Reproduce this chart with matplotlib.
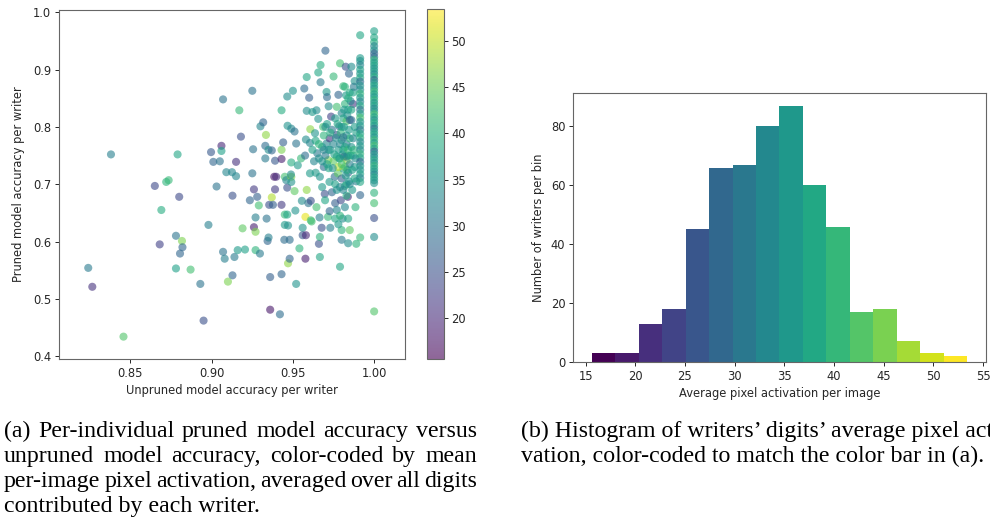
import numpy as np
import matplotlib
matplotlib.use("Agg")
import matplotlib.pyplot as plt
from matplotlib import cm

# ---------------- data ----------------
# scattered writers: (unpruned accuracy, pruned accuracy, mean pixel activation)
scatter_x = [0.824, 0.8265, 0.838, 0.8457, 0.865, 0.868, 0.869, 0.872, 0.8735, 0.880,
             0.879, 0.878, 0.8817, 0.882, 0.8805, 0.878, 0.887, 0.893, 0.895, 0.898,
             0.8996, 0.901, 0.905, 0.906, 0.906, 0.907, 0.903, 0.907, 0.908, 0.909,
             0.9125, 0.9128, 0.9128, 0.910, 0.914, 0.915, 0.915, 0.916, 0.917, 0.918,
             0.919, 0.9205, 0.9235, 0.925, 0.925, 0.9255, 0.926, 0.926, 0.927, 0.927,
             0.927, 0.928, 0.929, 0.9297, 0.930, 0.9317, 0.933, 0.9334, 0.933, 0.9338,
             0.9344, 0.935, 0.9354, 0.936, 0.936, 0.935, 0.937, 0.937, 0.9377, 0.9385,
             0.939, 0.9397, 0.939, 0.943, 0.942, 0.943, 0.943, 0.943, 0.943, 0.944,
             0.9447, 0.945, 0.945, 0.945, 0.9465, 0.9459, 0.9465, 0.947, 0.947, 0.948,
             0.948, 0.949, 0.949, 0.9488, 0.949, 0.9465, 0.950, 0.9467, 0.949, 0.951,
             0.951, 0.9515, 0.952, 0.952, 0.953, 0.954, 0.955, 0.9555, 0.956, 0.956,
             0.957, 0.9575, 0.9577, 0.9577, 0.9585, 0.958, 0.9585, 0.9585, 0.958, 0.9595,
             0.9605, 0.960, 0.961, 0.9615, 0.9607, 0.9605, 0.961, 0.962, 0.963, 0.9636,
             0.9645, 0.9645, 0.965, 0.9656, 0.966, 0.9666, 0.9656, 0.9664, 0.967, 0.967,
             0.9666, 0.9666, 0.9677, 0.968, 0.9686, 0.969, 0.9696, 0.970, 0.9707, 0.9698,
             0.9707, 0.971, 0.9716, 0.9718, 0.972, 0.9725, 0.9726, 0.9726, 0.973, 0.9735,
             0.974, 0.975, 0.9757, 0.976, 0.977, 0.977, 0.9777, 0.978, 0.9785, 0.979,
             0.9795, 0.980, 0.980, 0.980, 0.980, 0.979, 0.981, 0.981, 0.9806, 0.9815,
             0.982, 0.9825, 0.9827, 0.983, 0.983, 0.9845, 0.984, 0.9838,
             0.962, 0.964, 0.966, 0.968, 0.969, 0.970, 0.971, 0.972, 0.973, 0.974,
             0.975, 0.975, 0.976, 0.976, 0.977, 0.977, 0.978, 0.978, 0.979, 0.979,
             0.980, 0.980, 0.981, 0.981, 0.982, 0.982, 0.982, 0.983, 0.983, 0.983,
             0.984, 0.984, 0.984, 0.984, 0.985, 0.985, 0.985, 0.985, 0.986, 0.986,
             0.987, 0.987, 0.988, 0.988, 0.989, 0.989, 0.989]
scatter_y = [0.554, 0.521, 0.752, 0.434, 0.697, 0.595, 0.655, 0.704, 0.707, 0.678,
             0.752, 0.610, 0.601, 0.590, 0.579, 0.553, 0.551, 0.526, 0.462, 0.629,
             0.756, 0.739, 0.740, 0.767, 0.758, 0.848, 0.696, 0.582, 0.570, 0.721,
             0.721, 0.680, 0.541, 0.530, 0.573, 0.739, 0.714, 0.585, 0.829, 0.783,
             0.623, 0.586, 0.672, 0.863, 0.719, 0.761, 0.691, 0.625, 0.642, 0.585,
             0.617, 0.678, 0.663, 0.579, 0.801, 0.808, 0.767, 0.786, 0.745, 0.640,
             0.601, 0.607, 0.664, 0.538, 0.481, 0.760, 0.677, 0.759, 0.664, 0.713,
             0.741, 0.713, 0.691, 0.543, 0.473, 0.829, 0.744, 0.760, 0.664, 0.773,
             0.603, 0.629, 0.647, 0.713, 0.694, 0.707, 0.647, 0.628, 0.562, 0.603,
             0.570, 0.713, 0.704, 0.717, 0.738, 0.853, 0.863, 0.802, 0.797, 0.688,
             0.792, 0.654, 0.771, 0.526, 0.733, 0.588, 0.745, 0.671, 0.624, 0.611,
             0.867, 0.750, 0.643, 0.570, 0.690, 0.778, 0.887, 0.828, 0.611, 0.667,
             0.772, 0.851, 0.637, 0.635, 0.796, 0.719, 0.671, 0.826, 0.740, 0.789,
             0.829, 0.660, 0.754, 0.895, 0.596, 0.573, 0.814, 0.642, 0.878, 0.908,
             0.713, 0.608, 0.624, 0.695, 0.800, 0.730, 0.683, 0.933, 0.861, 0.672,
             0.771, 0.852, 0.643, 0.742, 0.836, 0.704, 0.653, 0.780, 0.624, 0.818,
             0.686, 0.888, 0.713, 0.667, 0.655, 0.748, 0.719, 0.856, 0.801, 0.911,
             0.672, 0.824, 0.777, 0.620, 0.603, 0.556, 0.871, 0.727, 0.640, 0.748,
             0.697, 0.905, 0.855, 0.742, 0.785, 0.893, 0.597, 0.678,
             0.760, 0.776, 0.745, 0.765, 0.785, 0.750, 0.805, 0.728, 0.760, 0.795,
             0.740, 0.770, 0.815, 0.700, 0.835, 0.786, 0.760, 0.730, 0.695, 0.745,
             0.800, 0.710, 0.760, 0.815, 0.730, 0.840, 0.660, 0.770, 0.810, 0.700,
             0.750, 0.830, 0.720, 0.640, 0.780, 0.860, 0.620, 0.700, 0.905, 0.812,
             0.750, 0.840, 0.730, 0.880, 0.596, 0.790, 0.705]
scatter_c = [31, 21, 32, 43, 24, 23, 39, 40, 41, 24,
             38, 30, 46, 28, 28, 37, 42, 30, 25, 32,
             26, 28, 30, 20, 37, 30, 30, 30, 32, 33,
             33, 25, 28, 46, 31, 21, 33, 36, 41, 25,
             44, 37, 28, 30, 30, 30, 22, 19, 32, 40,
             46, 27, 42, 31, 33, 28, 29, 47, 31, 30,
             28, 32, 25, 27, 18, 34, 49, 28, 27, 18,
             26, 20, 22, 28, 29, 39, 19, 46, 22, 27,
             29, 36, 41, 42, 25, 33, 38, 35, 47, 29,
             28, 46, 35, 34, 39, 34, 35, 35, 33, 44,
             30, 35, 30, 35, 36, 40, 41, 34, 35, 26,
             29, 29, 52, 19, 47, 34, 38, 34, 20, 30,
             33, 27, 42, 42, 47, 36, 25, 36, 33, 35,
             34, 42, 31, 38, 25, 38, 35, 32, 31, 39,
             35, 40, 25, 36, 42, 29, 25, 28, 36, 38,
             33, 29, 41, 46, 34, 36, 28, 21, 32, 23,
             28, 41, 29, 27, 33, 40, 44, 28, 29, 42,
             24, 33, 38, 40, 31, 38, 41, 36, 34, 20,
             40, 25, 36, 47, 35, 28, 34, 20,
             37, 38, 34, 36, 40, 31, 37, 38, 35, 30,
             44, 33, 36, 37, 42, 25, 36, 49, 33, 41,
             34, 27, 39, 38, 45, 40, 33, 31, 43, 36,
             35, 37, 28, 38, 40, 39, 44, 33, 34, 30,
             38, 22, 36, 35, 40, 37, 32]

# the dense cluster of high-accuracy writers
dense_x = [0.9745, 0.9755, 0.9765, 0.9775, 0.9785, 0.9790, 0.9795, 0.9800, 0.9805, 0.9810,
           0.9815, 0.9820, 0.9825, 0.9830, 0.9835, 0.9840, 0.9845, 0.9850, 0.9855, 0.9860,
           0.9865, 0.9870, 0.9875, 0.9880, 0.9885, 0.9860, 0.9855, 0.9870, 0.9875, 0.9840,
           0.9835, 0.9820, 0.9815, 0.9850, 0.9865, 0.9845, 0.9830, 0.9810, 0.9880, 0.9885,
           0.9720, 0.9730, 0.9700, 0.9690, 0.9710, 0.9680, 0.9660, 0.9640, 0.9770, 0.9760,
           0.9780, 0.9790]
dense_y = [0.728, 0.752, 0.781, 0.805, 0.745, 0.770, 0.790, 0.735, 0.752, 0.782,
           0.800, 0.765, 0.715, 0.748, 0.725, 0.760, 0.795, 0.735, 0.750, 0.765,
           0.725, 0.780, 0.760, 0.800, 0.745, 0.830, 0.845, 0.860, 0.870, 0.850,
           0.820, 0.870, 0.830, 0.812, 0.690, 0.705, 0.680, 0.690, 0.710, 0.660,
           0.760, 0.790, 0.800, 0.760, 0.735, 0.740, 0.770, 0.720, 0.690, 0.640,
           0.630, 0.645]
dense_c = [35, 37, 34, 38, 36, 33, 40, 42, 35, 30,
           37, 38, 36, 34, 39, 41, 36, 32, 38, 35,
           37, 33, 40, 36, 34, 38, 33, 37, 31, 39,
           35, 40, 36, 28, 36, 35, 39, 33, 38, 40,
           36, 39, 34, 33, 37, 35, 40, 36, 35, 38,
           36, 40]

# writers with unpruned accuracy ~0.991
col991_x = 0.9914
col991_y = [0.960, 0.920, 0.915, 0.908, 0.900, 0.893, 0.886, 0.879, 0.872, 0.865,
            0.858, 0.851, 0.844, 0.837, 0.830, 0.823, 0.816, 0.809, 0.802, 0.795,
            0.788, 0.781, 0.774, 0.767, 0.760, 0.753, 0.746, 0.739, 0.732, 0.725,
            0.718, 0.711, 0.704, 0.681, 0.607]
col991_c = [38, 36, 35, 33, 37, 36, 38, 29, 35, 34,
            40, 36, 33, 38, 30, 37, 42, 35, 36, 31,
            38, 39, 33, 36, 34, 40, 37, 28, 36, 35,
            37, 33, 38, 28, 41]

# writers with perfect unpruned accuracy
col100_x = 1.0
col100_y = [0.967, 0.956, 0.948, 0.941, 0.934, 0.928, 0.922,
            0.917, 0.912, 0.907, 0.902, 0.897, 0.892, 0.887, 0.882, 0.877, 0.872,
            0.867, 0.862, 0.857, 0.852, 0.847, 0.842, 0.837, 0.832, 0.827, 0.822,
            0.817, 0.812, 0.807, 0.802, 0.797, 0.792, 0.787, 0.782, 0.777, 0.772,
            0.767, 0.762, 0.757, 0.752, 0.747, 0.742, 0.737, 0.732, 0.727, 0.722,
            0.717, 0.712, 0.707, 0.702,
            0.685, 0.667, 0.641, 0.608, 0.478]
col100_c = [37, 38, 39, 33, 35, 27, 29,
            40, 36, 38, 35, 37, 34, 39, 28, 36, 38,
            35, 41, 37, 36, 40, 35, 38, 33, 36, 42,
            37, 35, 39, 36, 30, 37, 38, 35, 41, 36,
            42, 37, 28, 36, 34, 38, 35, 40, 37, 36,
            33, 38, 36, 35,
            40, 42, 25, 34, 43]

act_min, act_max = 15.62, 53.40

# histogram of mean pixel activation
hist_counts = [3, 3, 13, 18, 45, 66, 67, 80, 87, 60, 46, 17, 18, 7, 3, 2]

caption_a = ["(a) Per-individual pruned model accuracy versus",
             "unpruned model accuracy, color-coded by mean",
             "per-image pixel activation, averaged over all digits",
             "contributed by each writer."]
caption_b = ["(b) Histogram of writers\u2019 digits\u2019 average pixel acti-",
             "vation, color-coded to match the color bar in (a)."]

# ---------------- figure ----------------
W, H = 990, 525
fig = plt.figure(figsize=(W / 100, H / 100), dpi=100)
TXT = "#262626"
SP = "#666666"
plt.rcParams["font.family"] = ["DejaVu Sans"]
FS = 8.3


def box(l, r, t, b):
    return [l / W, (H - b) / H, (r - l) / W, (b - t) / H]


def style(ax):
    for s in ax.spines.values():
        s.set_color(SP)
        s.set_linewidth(0.8)
    ax.tick_params(labelsize=FS, colors=TXT, length=3, width=0.7, pad=2.5)


ax1 = fig.add_axes(box(59, 405, 10, 359))
xs = (list(scatter_x) + list(dense_x) + [col991_x] * len(col991_y)
      + [col100_x] * len(col100_y))
ys = list(scatter_y) + list(dense_y) + list(col991_y) + list(col100_y)
cs = list(scatter_c) + list(dense_c) + list(col991_c) + list(col100_c)
sc = ax1.scatter(xs, ys, c=cs, cmap="viridis", vmin=act_min, vmax=act_max,
                 s=34, alpha=0.6, linewidths=0)
ax1.set_xlim(0.806, 1.019)
ax1.set_ylim(0.395, 1.004)
ax1.set_xticks([0.85, 0.90, 0.95, 1.00])
ax1.set_xticklabels(["0.85", "0.90", "0.95", "1.00"])
ax1.set_yticks([0.4, 0.5, 0.6, 0.7, 0.8, 0.9, 1.0])
ax1.set_xlabel("Unpruned model accuracy per writer", fontsize=FS, color=TXT, labelpad=3)
ax1.set_ylabel("Pruned model accuracy per writer", fontsize=FS, color=TXT, labelpad=6)
style(ax1)

cax = fig.add_axes(box(427, 443.5, 9.3, 359))
cb = fig.colorbar(sc, cax=cax)
cb.set_ticks([20, 25, 30, 35, 40, 45, 50])
cb.outline.set_edgecolor(SP)
cb.outline.set_linewidth(0.8)
cax.tick_params(labelsize=FS, colors=TXT, length=3, width=0.7, pad=2.5)

ax2 = fig.add_axes(box(573, 986, 93, 362))
edges = np.linspace(act_min, act_max, len(hist_counts) + 1)
bar_cols = [cm.viridis(i / (len(hist_counts) - 1)) for i in range(len(hist_counts))]
ax2.bar(edges[:-1], hist_counts, width=np.diff(edges), align="edge",
        color=bar_cols, linewidth=0)
ax2.set_xlim(13.73, 55.3)
ax2.set_ylim(0, 91.35)
ax2.set_xticks([15, 20, 25, 30, 35, 40, 45, 50, 55])
ax2.set_yticks([0, 20, 40, 60, 80])
ax2.set_xlabel("Average pixel activation per image", fontsize=FS, color=TXT, labelpad=3)
ax2.set_ylabel("Number of writers per bin", fontsize=FS, color=TXT, labelpad=4)
style(ax2)

# ---------------- captions ----------------
renderer = fig.canvas.get_renderer()
CAPFONT = "Liberation Serif"
probe = fig.text(0, 0, caption_b[1], fontsize=10, family=CAPFONT)
pw = probe.get_window_extent(renderer).width
probe.remove()
cap_fs = 10 * 463.0 / pw


def put_line(text, x0, ybase, width=None):
    if width is None:
        fig.text(x0 / W, (H - ybase) / H, text, fontsize=cap_fs, family=CAPFONT,
                 color="black", va="baseline", ha="left")
        return
    words = text.split(" ")
    objs = [fig.text(0, (H - ybase) / H, w, fontsize=cap_fs, family=CAPFONT,
                     color="black", va="baseline", ha="left") for w in words]
    widths = [o.get_window_extent(renderer).width for o in objs]
    gap = (width - sum(widths)) / (len(words) - 1)
    x = x0
    for o, w in zip(objs, widths):
        o.set_x(x / W)
        x += w + gap


base = [437, 462, 487, 512]
for i, line in enumerate(caption_a):
    put_line(line, 4, base[i], 473 if i < len(caption_a) - 1 else None)
for i, line in enumerate(caption_b):
    put_line(line, 521, base[i])

fig.savefig("out.png", dpi=100)
